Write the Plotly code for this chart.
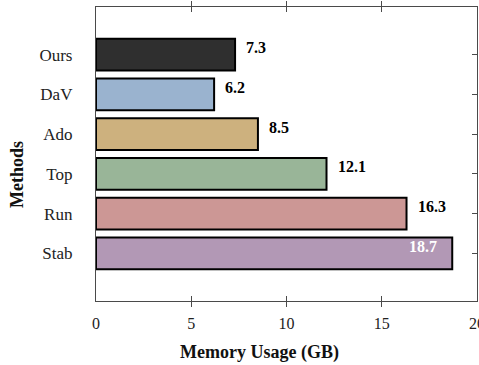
import plotly.graph_objects as go

# Peak memory per method (GB)
methods = ["Ours", "DaV", "Ado", "Top", "Run", "Stab"]
memory_gb = [7.3, 6.2, 8.5, 12.1, 16.3, 18.7]
bar_colors = ["#2f2f2f", "#9ab3cf", "#cdb17e", "#99b598", "#cc9795", "#b298b5"]
x_ticks = [0, 5, 10, 15, 20]

FONT = "Liberation Serif, Times New Roman, serif"
AXIS_COLOR = "#4a4a4a"

fig = go.Figure()
fig.add_trace(go.Bar(
    x=memory_gb,
    y=methods,
    orientation="h",
    width=0.8,
    marker=dict(color=bar_colors, line=dict(color="black", width=2)),
    showlegend=False,
    hoverinfo="skip",
))

# Hidden twin axis so the category ticks appear only on the right edge
fig.add_trace(go.Scatter(x=[None], y=[None], yaxis="y2", showlegend=False, hoverinfo="skip"))

# Value labels: last bar labelled inside in white, others just past the bar end
for i, (m, v) in enumerate(zip(methods, memory_gb)):
    inside = i == len(methods) - 1
    fig.add_annotation(
        x=v, y=m, xref="x", yref="y",
        text=f"<b>{v}</b>",
        showarrow=False,
        xanchor="right" if inside else "left",
        xshift=-13 if inside else 9,
        yshift=7,
        font=dict(family=FONT, size=16, color="white" if inside else "black"),
    )

# Axis titles
fig.add_annotation(
    text="<b>Memory Usage (GB)</b>", xref="paper", yref="paper",
    x=0.428, y=-0.174, showarrow=False, xanchor="center", yanchor="middle",
    font=dict(family=FONT, size=18, color="#111111"),
)
fig.add_annotation(
    text="<b>Methods</b>", xref="paper", yref="paper",
    x=-0.207, y=0.429, showarrow=False, xanchor="center", yanchor="middle",
    textangle=-90,
    font=dict(family=FONT, size=18, color="#111111"),
)

cat_order = methods[::-1]
yrange = [-1.2, 6.2]

fig.update_layout(
    width=479, height=365,
    margin=dict(l=96, r=2, t=7, b=64, autoexpand=False),
    paper_bgcolor="white", plot_bgcolor="white",
    font=dict(family=FONT, size=16, color="#222222"),
    xaxis=dict(
        range=[0, 20], tickvals=x_ticks, ticktext=[str(t) for t in x_ticks],
        showgrid=False, zeroline=False, automargin=False,
        showline=True, linecolor=AXIS_COLOR, linewidth=1.3, mirror="allticks",
        ticks="inside", ticklen=5, tickwidth=1.2, tickcolor=AXIS_COLOR,
        ticklabelstandoff=8, ticklabeloverflow="allow",
        tickfont=dict(family=FONT, size=16, color="#222222"),
    ),
    yaxis=dict(
        type="category", categoryorder="array", categoryarray=cat_order,
        range=yrange, automargin=False,
        showgrid=False, zeroline=False,
        showline=True, linecolor=AXIS_COLOR, linewidth=1.3, mirror=True,
        ticks="",
        ticklabelstandoff=19,
        tickfont=dict(family=FONT, size=17, color="#222222"),
    ),
    yaxis2=dict(
        type="category", categoryorder="array", categoryarray=cat_order,
        range=yrange, overlaying="y", side="right", automargin=False,
        showgrid=False, zeroline=False, showline=False,
        ticks="inside", ticklen=5, tickwidth=1.2, tickcolor=AXIS_COLOR,
        showticklabels=False,
    ),
    bargap=0.2,
)

fig.write_html("out.html")
